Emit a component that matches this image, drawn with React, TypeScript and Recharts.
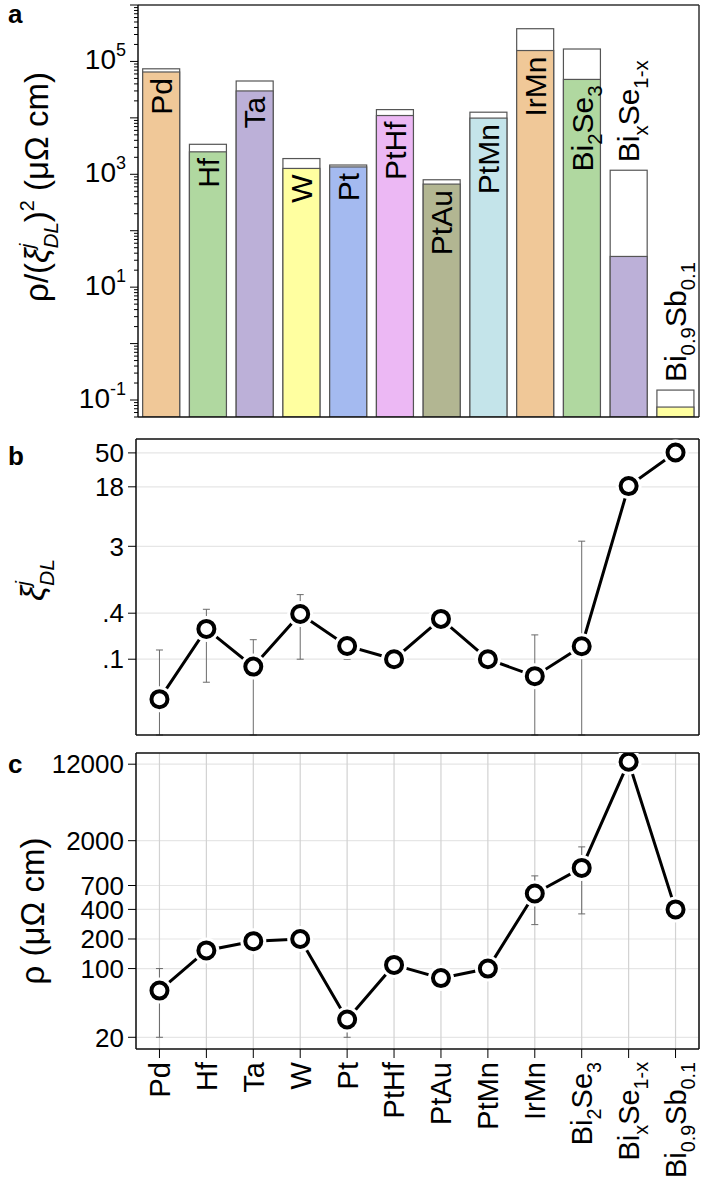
import React from "react";
import {
  ComposedChart,
  Bar,
  Line,
  XAxis,
  YAxis,
  CartesianGrid,
  ErrorBar,
  Cell,
} from "recharts";

const FONT = "'Liberation Sans', Arial, Helvetica, sans-serif";

// categories, subscripts written as _{...}
const materials = [
  "Pd",
  "Hf",
  "Ta",
  "W",
  "Pt",
  "PtHf",
  "PtAu",
  "PtMn",
  "IrMn",
  "Bi_{2}Se_{3}",
  "Bi_{x}Se_{1-x}",
  "Bi_{0.9}Sb_{0.1}",
];

const barColors = [
  "#f0c898",
  "#b0d8a0",
  "#bcb0d8",
  "#ffffa0",
  "#a4baf0",
  "#ecb8f4",
  "#b2b692",
  "#c4e4ea",
  "#f0c898",
  "#b0d8a0",
  "#bcb0d8",
  "#ffffa0",
];

// panel a: rho / (xi)^2, coloured part and white upper part
const ratioValue = [65000, 2500, 30000, 1270, 1350, 11000, 670, 9900, 156000, 48000, 35, 0.075];
const ratioUpper = [74000, 3400, 45000, 1900, 1460, 14000, 800, 12600, 380000, 166000, 1180, 0.15];
const labelAbove = [false, false, false, false, false, false, false, false, false, false, true, true];

// panel b: xi_DL
const xiValue = [0.03, 0.249, 0.08, 0.39, 0.149, 0.1, 0.337, 0.1, 0.06, 0.148, 18.4, 50.6];
const xiLow = [0.0102, 0.05, 0.0102, 0.1, 0.1, 0.1, 0.337, 0.1, 0.0102, 0.0102, 18.4, 50.6];
const xiHigh = [0.132, 0.45, 0.18, 0.7, 0.17, 0.1, 0.337, 0.1, 0.208, 3.5, 18.4, 50.6];

// panel c: rho
const rhoValue = [59.7, 153, 190, 200, 30.3, 109, 80, 100, 580, 1057, 12700, 400];
const rhoLow = [20, 153, 172, 200, 20, 109, 80, 100, 280, 360, 12700, 400];
const rhoHigh = [100, 153, 210, 200, 40, 109, 80, 100, 877, 1730, 12700, 400];

const ratioDomain = [0.05, 1e6];
const labelledDecades = [-1, 1, 3, 5];
const xiDomain = [0.0102, 76];
const xiTicks = [0.1, 0.4, 3, 18, 50];
const xiTickLabels = [".1", ".4", "3", "18", "50"];
const rhoDomain = [15.2, 15600];
const rhoTicks = [20, 100, 200, 400, 700, 2000, 12000];

const ratioTicks: number[] = [];
for (let e = -2; e <= 6; e++) {
  for (let k = 1; k <= 9; k++) {
    const v = k * Math.pow(10, e);
    if (v >= ratioDomain[0] && v <= ratioDomain[1]) ratioTicks.push(v);
  }
}

const barData = materials.map((name, i) => ({
  name,
  value: ratioValue[i],
  upper: ratioUpper[i],
}));
const xiData = materials.map((name, i) => ({
  name,
  xi: xiValue[i],
  err: [xiValue[i] - xiLow[i], xiHigh[i] - xiValue[i]],
}));
const rhoData = materials.map((name, i) => ({
  name,
  rho: rhoValue[i],
  err: [rhoValue[i] - rhoLow[i], rhoHigh[i] - rhoValue[i]],
}));

function parseLabel(label: string) {
  const parts: { text: string; sub: boolean }[] = [];
  const re = /_\{([^}]*)\}/g;
  let last = 0;
  let m: RegExpExecArray | null;
  while ((m = re.exec(label))) {
    if (m.index > last) parts.push({ text: label.slice(last, m.index), sub: false });
    parts.push({ text: m[1], sub: true });
    last = re.lastIndex;
  }
  if (last < label.length) parts.push({ text: label.slice(last), sub: false });
  return parts;
}

function richSpans(label: string, size: number) {
  const shift = size * 0.3;
  let down = false;
  return parseLabel(label).map((p, i) => {
    let dy = 0;
    if (p.sub && !down) {
      dy = shift;
      down = true;
    } else if (!p.sub && down) {
      dy = -shift;
      down = false;
    }
    return (
      <tspan key={i} dy={dy} fontSize={p.sub ? size * 0.68 : size}>
        {p.text}
      </tspan>
    );
  });
}

// vertical text, reading upward; anchor "end" puts the end of the text at (x, y)
function VerticalLabel({ x, y, label, size, anchor }: any) {
  return (
    <g transform={`translate(${x},${y}) rotate(-90)`}>
      <text x={0} y={size * 0.36} textAnchor={anchor} fontFamily={FONT} fontSize={size} fill="#000">
        {richSpans(label, size)}
      </text>
    </g>
  );
}

const BAR_LABEL = 30;

function ValueBar(props: any) {
  const { x, y, width, height, fill, index } = props;
  if (height == null || isNaN(height)) return null;
  return (
    <g>
      <rect x={x} y={y} width={width} height={height} fill={fill} stroke="#555" strokeWidth={1.2} />
      {!labelAbove[index] && (
        <VerticalLabel x={x + width / 2} y={y + 6} label={materials[index]} size={BAR_LABEL} anchor="end" />
      )}
    </g>
  );
}

function UpperBar(props: any) {
  const { x, y, width, height, index } = props;
  if (height == null || isNaN(height)) return null;
  return (
    <g>
      <rect x={x} y={y} width={width} height={height} fill="#fff" stroke="#555" strokeWidth={1.2} />
      {labelAbove[index] && (
        <VerticalLabel x={x + width / 2} y={y - 8} label={materials[index]} size={BAR_LABEL} anchor="start" />
      )}
    </g>
  );
}

function RatioTick(props: any) {
  const { x, y, payload } = props;
  const lg = Math.log10(payload.value);
  const e = Math.round(lg);
  const major = Math.abs(lg - e) < 1e-9;
  return (
    <g>
      <line x1={x} x2={x - (major ? 8 : 4)} y1={y} y2={y} stroke="#000" strokeWidth={1} />
      {major && labelledDecades.includes(e) && (
        <text x={x - 12} y={y + 8} textAnchor="end" fontFamily={FONT} fontSize={28} fill="#000">
          10
          <tspan fontSize={18} dy={-13}>
            {e}
          </tspan>
        </text>
      )}
    </g>
  );
}

function MaterialTick(props: any) {
  const { x, y, payload } = props;
  return <VerticalLabel x={x} y={y} label={payload.value} size={29} anchor="end" />;
}

function HaloDot(props: any) {
  const { cx, cy } = props;
  if (cx == null || cy == null) return null;
  return <circle cx={cx} cy={cy} r={13} fill="#fff" />;
}

function RingDot(props: any) {
  const { cx, cy } = props;
  if (cx == null || cy == null) return null;
  return <circle cx={cx} cy={cy} r={8} fill="#fff" stroke="#000" strokeWidth={4} />;
}

// top and right edges of the plot box, taken from the chart's own offset
function FrameEdges({ color }: { color: string }) {
  return (
    <CartesianGrid
      stroke={color}
      strokeWidth={1.5}
      strokeOpacity={1}
      horizontalCoordinatesGenerator={(p: any) => [p.offset.top]}
      verticalCoordinatesGenerator={(p: any) => [p.offset.left + p.offset.width]}
    />
  );
}

const tickStyle = { fontSize: 26, fontFamily: FONT, fill: "#000" };
const frame = { stroke: "#111", strokeWidth: 1.5 };

function Titles() {
  const s = 33;
  const xs = 34;
  return (
    <svg
      width={706}
      height={1198}
      style={{ position: "absolute", left: 0, top: 0, pointerEvents: "none" }}
    >
      <g fontFamily={FONT} fontWeight="bold" fontSize={26} fill="#000">
        <text x={8} y={23}>a</text>
        <text x={8} y={465}>b</text>
        <text x={8} y={773}>c</text>
      </g>
      <g transform="translate(36,187) rotate(-90)">
        <text x={0} y={s * 0.36} textAnchor="middle" fontFamily={FONT} fontSize={s} fill="#000">
          <tspan>ρ/(</tspan>
          <tspan fontStyle="italic">ξ</tspan>
          <tspan fontStyle="italic" fontSize={s * 0.62} dy={-s * 0.42}>
            j
          </tspan>
          <tspan fontStyle="italic" fontSize={s * 0.62} dx={-s * 0.14} dy={s * 0.72}>
            DL
          </tspan>
          <tspan dy={-s * 0.3}>)</tspan>
          <tspan fontSize={s * 0.6} dy={-s * 0.42}>
            2
          </tspan>
          <tspan dy={s * 0.42}>{" (μΩ cm)"}</tspan>
        </text>
      </g>
      <g transform="translate(34,580) rotate(-90)">
        <text x={0} y={xs * 0.3} textAnchor="middle" fontFamily={FONT} fontSize={xs} fill="#000">
          <tspan fontStyle="italic">ξ</tspan>
          <tspan fontStyle="italic" fontSize={xs * 0.62} dy={-xs * 0.42}>
            j
          </tspan>
          <tspan fontStyle="italic" fontSize={xs * 0.62} dx={-xs * 0.14} dy={xs * 0.72}>
            DL
          </tspan>
        </text>
      </g>
      <g transform="translate(32,911) rotate(-90)">
        <text x={0} y={s * 0.36} textAnchor="middle" fontFamily={FONT} fontSize={s} fill="#000">
          ρ (μΩ cm)
        </text>
      </g>
    </svg>
  );
}

export default function App() {
  return (
    <div style={{ position: "absolute", left: 0, top: 0, width: 706, height: 1198, background: "#fff" }}>
      {/* panel a */}
      <div style={{ position: "absolute", left: 0, top: 0 }}>
        <ComposedChart
          width={706}
          height={432}
          data={barData}
          margin={{ top: 5, right: 7, bottom: 0, left: 0 }}
          barCategoryGap="10%"
        >
          <FrameEdges color="#333" />
          <XAxis
            dataKey="name"
            height={15}
            tick={false}
            tickSize={8}
            tickLine={{ stroke: "#000" }}
            axisLine={frame}
            interval={0}
          />
          <XAxis xAxisId="overlay" dataKey="name" hide />
          <YAxis
            type="number"
            scale="log"
            domain={ratioDomain}
            allowDataOverflow
            ticks={ratioTicks}
            interval={0}
            width={138}
            tick={<RatioTick />}
            tickLine={false}
            tickSize={0}
            tickMargin={0}
            axisLine={frame}
          />
          <Bar xAxisId="overlay" dataKey="upper" shape={<UpperBar />} isAnimationActive={false} />
          <Bar dataKey="value" shape={<ValueBar />} isAnimationActive={false}>
            {barData.map((d, i) => (
              <Cell key={d.name} fill={barColors[i]} />
            ))}
          </Bar>
        </ComposedChart>
      </div>

      {/* panel b */}
      <div style={{ position: "absolute", left: 0, top: 432 }}>
        <ComposedChart width={706} height={312} data={xiData} margin={{ top: 7, right: 7, bottom: 0, left: 0 }}>
          <CartesianGrid vertical={false} stroke="#e6e6e6" strokeWidth={1.2} />
          <CartesianGrid horizontal={false} stroke="#d2d2d2" strokeWidth={1.2} />
          <FrameEdges color="#111" />
          <XAxis
            dataKey="name"
            scale="band"
            height={9}
            tick={false}
            tickSize={8}
            tickLine={{ stroke: "#000" }}
            axisLine={frame}
            interval={0}
          />
          <YAxis
            type="number"
            scale="log"
            domain={xiDomain}
            allowDataOverflow
            ticks={xiTicks}
            interval={0}
            width={136}
            tick={tickStyle}
            tickFormatter={(v: number) => xiTickLabels[xiTicks.indexOf(v)]}
            tickSize={8}
            tickMargin={4}
            tickLine={{ stroke: "#000" }}
            axisLine={frame}
          />
          <Line dataKey="xi" stroke="#000" strokeWidth={3} dot={<HaloDot />} activeDot={false} isAnimationActive={false} />
          <Line dataKey="xi" stroke="none" dot={false} activeDot={false} isAnimationActive={false}>
            <ErrorBar dataKey="err" direction="y" width={3.5} stroke="#6a6a6a" strokeWidth={1} />
          </Line>
          <Line dataKey="xi" stroke="none" dot={<RingDot />} activeDot={false} isAnimationActive={false} />
        </ComposedChart>
      </div>

      {/* panel c */}
      <div style={{ position: "absolute", left: 0, top: 744 }}>
        <ComposedChart width={706} height={454} data={rhoData} margin={{ top: 9, right: 7, bottom: 0, left: 0 }}>
          <CartesianGrid vertical={false} stroke="#e6e6e6" strokeWidth={1.2} />
          <CartesianGrid horizontal={false} stroke="#d2d2d2" strokeWidth={1.2} />
          <FrameEdges color="#111" />
          <XAxis
            dataKey="name"
            scale="band"
            height={149}
            tick={<MaterialTick />}
            tickSize={9}
            tickMargin={4}
            tickLine={{ stroke: "#000" }}
            axisLine={frame}
            interval={0}
          />
          <YAxis
            type="number"
            scale="log"
            domain={rhoDomain}
            allowDataOverflow
            ticks={rhoTicks}
            interval={0}
            width={136}
            tick={tickStyle}
            tickSize={8}
            tickMargin={4}
            tickLine={{ stroke: "#000" }}
            axisLine={frame}
          />
          <Line dataKey="rho" stroke="#000" strokeWidth={3} dot={<HaloDot />} activeDot={false} isAnimationActive={false} />
          <Line dataKey="rho" stroke="none" dot={false} activeDot={false} isAnimationActive={false}>
            <ErrorBar dataKey="err" direction="y" width={3.5} stroke="#6a6a6a" strokeWidth={1} />
          </Line>
          <Line dataKey="rho" stroke="none" dot={<RingDot />} activeDot={false} isAnimationActive={false} />
        </ComposedChart>
      </div>

      <Titles />
    </div>
  );
}
